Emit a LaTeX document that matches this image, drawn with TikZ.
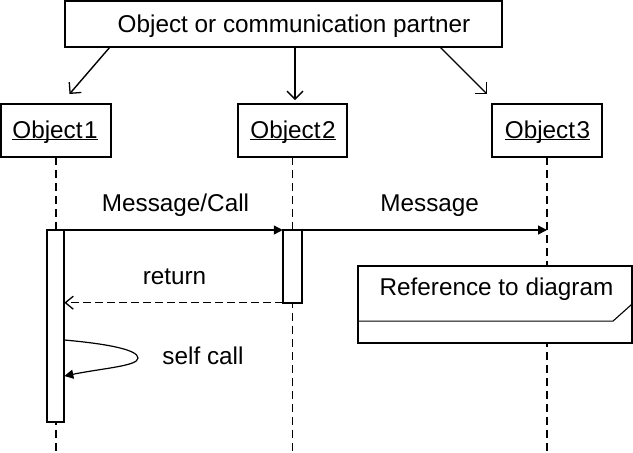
\documentclass[tikz,border=0pt]{standalone}
\usepackage{fontspec}
\setmainfont{Liberation Sans}
\usetikzlibrary{arrows.meta,calc}
\newcommand{\ulin}[1]{\underline{\smash{#1}}}
\begin{document}
\begin{tikzpicture}[x=1pt,y=-1pt,
  box/.style={draw, line width=2pt, inner sep=0pt, outer sep=0pt},
  lbl/.style={anchor=base, inner sep=0pt, font=\fontsize{24.3}{28}\selectfont},
  life/.style={line width=1.6pt, dash pattern=on 8pt off 5pt},
  conn/.style={line width=1.4pt},
  openarrow/.style={conn, -{Straight Barb[length=8pt,width=16pt,line width=1.3pt]}},
  retarrow/.style={conn, dash pattern=on 8pt off 4pt, -{Straight Barb[length=8pt,width=13pt,line width=1.3pt]}},
  filledarrow/.style={conn, -{Triangle[length=9pt,width=9pt]}}]
\useasboundingbox (0,0) rectangle (633,453);

% top box
\node[box, minimum width=437pt, minimum height=46pt] (top) at (283.5,24) {};
\node[lbl] (toptext) at (294,32) {Object or communication partner};

% object boxes
\node[box, minimum width=110pt, minimum height=53pt] (o1) at (56,130.5) {};
\node[box, minimum width=109pt, minimum height=53pt] (o2) at (292.5,130.5) {};
\node[box, minimum width=110pt, minimum height=53pt] (o3) at (547,130.5) {};
\node[lbl] (o1t) at (55,138) {\ulin{Object\kern1.5pt 1}};
\node[lbl] (o2t) at (293,138) {\ulin{Object\kern1.5pt 2}};
\node[lbl] (o3t) at (547.5,138) {\ulin{Object\kern1.5pt 3}};

% arrows from top box
\coordinate (s1) at (110,47);
\coordinate (e1) at (69.5,94);
\coordinate (s2) at (295,47);
\coordinate (e2) at (295,100);
\coordinate (s3) at (440,47);
\coordinate (e3) at (487,94);
\draw[openarrow] (s1) -- (e1);
\draw[openarrow] (s2) -- (e2);
\draw[openarrow] (s3) -- (e3);

% lifelines
\draw[life] (o1.south) -- (o1.south |- 0,453);
\draw[life] (o2.south) -- (o2.south |- 0,453);
\draw[life] (o3.south) -- (o3.south |- 0,453);

% activations
\node[box, fill=white, minimum width=17.6pt, minimum height=191.7pt, anchor=north] (a1) at (55.5,230) {};
\node[box, fill=white, minimum width=19.3pt, minimum height=72.7pt, anchor=north] (a2) at (292.4,230) {};

% messages
\draw[filledarrow] (a1.north east) -- (a2.north west);
\node[lbl] (m1t) at (175.5,211.7) {Message/Call};
\draw[filledarrow] (a2.north east) -- (a2.north east -| o3.south);
\node[lbl] (m2t) at (429.7,211.7) {Message};

% return
\draw[retarrow] (a2.south west) -- (a2.south west -| a1.east);
\node[lbl] (rt) at (174.5,284) {return};

% self call
\coordinate (sc1) at ($(a1.north east)+(0,110)$);
\coordinate (sc2) at ($(a1.north east)+(0,146)$);
\draw[filledarrow, line width=1.2pt] (sc1) .. controls +(45,4) and +(0,-8) .. (138,358) .. controls +(0,8) and +(40,-8) .. (sc2);
\node[lbl] (sct) at (203,364.3) {self call};

% reference box
\node[box, fill=white, minimum width=274.3pt, minimum height=76.7pt] (ref) at (494.9,304.4) {};
\node[lbl] (reft) at (496.5,295) {Reference to diagram};
\draw[line width=1.1pt] ($(ref.south west)+(0,-21.7)$) -- ($(ref.south east)+(-19,-21.7)$) -- ($(ref.south east)+(0,-38.7)$);
\end{tikzpicture}
\end{document}
